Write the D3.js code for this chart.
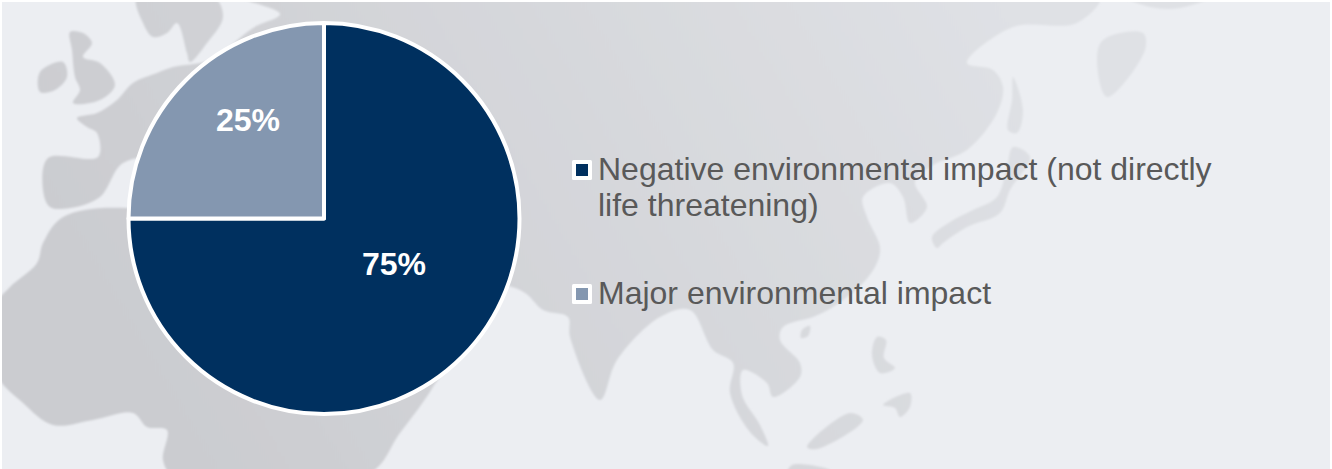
<!DOCTYPE html>
<html lang="en">
<head>
    <meta charset="UTF-8">
    <title>Environmental impact</title>
    <script src="https://d3js.org/d3.v7.min.js"></script>
    <style>
        html, body { margin: 0; padding: 0; background: #fff; overflow: hidden; }
        svg { display: block; }
        text { font-family: "Liberation Sans", Arial, sans-serif; }
    </style>
</head>
<body>
<svg width="1332" height="469"></svg>
<script>
    // chart data
    const categories = ["Negative environmental impact (not directly life threatening)", "Major environmental impact"];
    const legendLines = [["Negative environmental impact (not directly", "life threatening)"], ["Major environmental impact"]];
    const shares = [75, 25];
    const sliceColors = ["#00305f", "#8497b0"];

    // backdrop map, rough outlines of the land masses
    const landShapes = [
        // scandinavia
        [[137,-4],[143,23],[153,37],[167,33],[177,23],[187,53],[190,62],[207,43],[223,17],[213,-4]],
        // eurasia
        [[240,-4],[280,14],[253,28],[210,60],[173,67],[157,73],[133,83],[117,100],[97,113],[77,118],[87,127],[97,133],[98,157],[48,158],[43,190],[50,207],[70,208],[100,197],[123,163],[160,160],[300,250],[520,290],[543,310],[568,317],[570,337],[600,400],[617,360],[660,317],[690,310],[713,350],[733,363],[730,393],[750,432],[768,446],[760,425],[742,395],[743,370],[767,383],[773,397],[800,377],[800,363],[780,340],[783,327],[813,317],[833,307],[863,283],[877,263],[880,247],[867,217],[863,197],[890,183],[903,197],[910,223],[927,207],[915,182],[933,165],[967,150],[997,113],[1003,87],[993,70],[967,63],[1013,27],[1077,23],[1100,-4]],
        // africa
        [[-4,305],[10,287],[37,263],[43,243],[63,217],[127,208],[300,250],[440,370],[433,387],[400,433],[367,475],[173,475],[163,460],[167,430],[147,427],[133,413],[93,420],[53,425],[23,403],[-4,373]],
        // britain, ireland
        [[70,32],[83,33],[92,43],[83,57],[100,63],[115,85],[100,100],[73,103],[80,90],[75,77],[72,50]],
        [[40,72],[63,62],[67,77],[55,90],[40,92]],
        // far east
        [[1103,40],[1143,33],[1145,50],[1107,97],[1097,60]],
        [[1123,-4],[1213,-4],[1180,8],[1150,7]],
        [[1013,77],[1023,110],[1017,133],[1008,130],[1012,100]],
        [[1013,147],[1030,157],[1010,190],[1000,213],[967,227],[943,243],[937,248],[932,237],[950,222],[973,210],[997,197],[1007,167]],
        // hainan, philippines, borneo, sumatra
        [[802,330],[810,326],[808,336],[801,338]],
        [[877,337],[886,340],[884,358],[895,368],[880,373],[872,355]],
        [[883,405],[910,393],[910,407],[900,417],[895,408]],
        [[807,447],[850,413],[863,420],[817,449]],
        [[787,475],[792,465],[830,470]]
    ];

    const width = 1332, height = 469;
    const svg = d3.select("svg");

    // background panel
    svg.append("rect")
        .attr("x", 2).attr("y", 2)
        .attr("width", width - 4).attr("height", height - 2)
        .attr("fill", "#eceef2");

    const defs = svg.append("defs");
    defs.append("filter").attr("id", "soft")
        .append("feGaussianBlur").attr("stdDeviation", 1.2);
    defs.append("clipPath").attr("id", "panel")
        .append("rect").attr("x", 2).attr("y", 2)
        .attr("width", width - 4).attr("height", height - 2);
    const shade = defs.append("linearGradient").attr("id", "landShade")
        .attr("gradientUnits", "userSpaceOnUse")
        .attr("x1", 200).attr("y1", 469).attr("x2", 1000).attr("y2", 0);
    shade.append("stop").attr("offset", "0").attr("stop-color", "#cbccd0");
    shade.append("stop").attr("offset", "1").attr("stop-color", "#dfe1e5");

    const line = d3.line().curve(d3.curveCatmullRomClosed.alpha(0.5));
    svg.append("g").attr("clip-path", "url(#panel)")
        .append("g").attr("filter", "url(#soft)")
        .selectAll("path")
        .data(landShapes)
        .join("path")
        .attr("d", line)
        .attr("fill", "url(#landShade)");

    // pie
    const radius = 195.5;
    const pie = d3.pie().sort(null).value(d => d);
    const arc = d3.arc().innerRadius(0).outerRadius(radius);

    const g = svg.append("g").attr("transform", "translate(324,218.5)");
    const slices = pie(shares);

    g.selectAll("path")
        .data(slices)
        .join("path")
        .attr("d", arc)
        .attr("fill", (d, i) => sliceColors[i])
        .attr("stroke", "#fff")
        .attr("stroke-width", 4)
        .attr("stroke-linejoin", "round");

    // labels were placed by hand in the original, not on the centroids
    const labelAt = [[70, 45.5], [-76, -98.5]];
    g.selectAll("text")
        .data(slices)
        .join("text")
        .attr("transform", (d, i) => "translate(" + labelAt[i] + ")")
        .attr("text-anchor", "middle")
        .attr("dy", "0.35em")
        .attr("fill", "#fff")
        .attr("font-size", "32px")
        .attr("font-weight", "bold")
        .text(d => d.value + "%");

    // legend
    const legendY = [170, 294];
    const legend = svg.append("g");
    categories.forEach(function (c, i) {
        legend.append("rect")
            .attr("x", 572).attr("y", legendY[i] - 10)
            .attr("width", 20).attr("height", 20).attr("rx", 1.5)
            .attr("fill", "#fff");
        legend.append("rect")
            .attr("x", 576).attr("y", legendY[i] - 6)
            .attr("width", 12).attr("height", 12)
            .attr("fill", sliceColors[i]);
        legendLines[i].forEach(function (t, j) {
            legend.append("text")
                .attr("x", 598).attr("y", legendY[i] + 10 + j * 36)
                .attr("fill", "#595959")
                .attr("font-size", "32px")
                .text(t);
        });
    });
</script>
</body>
</html>
